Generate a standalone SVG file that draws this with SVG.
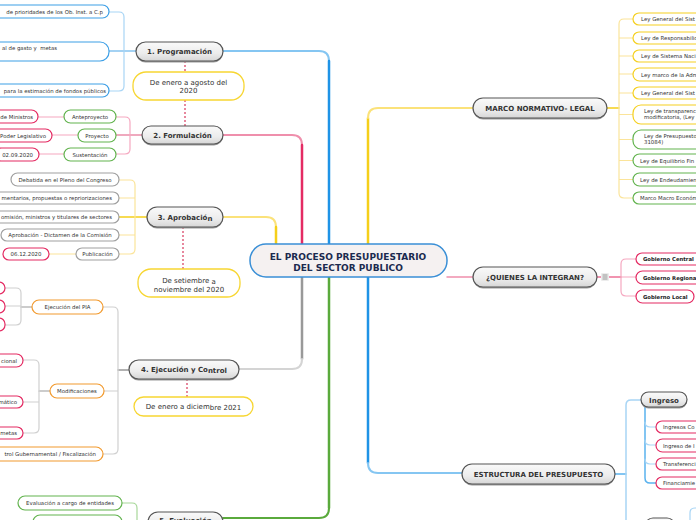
<svg xmlns="http://www.w3.org/2000/svg" width="696" height="520" viewBox="0 0 696 520">
<defs>
<linearGradient id="gGray" x1="0" y1="0" x2="0" y2="1">
<stop offset="0" stop-color="#fafafa"/><stop offset="0.6" stop-color="#ececec"/><stop offset="1" stop-color="#d6d6d6"/>
</linearGradient>
</defs>
<style>
.f{font-family:"DejaVu Sans","Liberation Sans",sans-serif}
.tm{font-family:"DejaVu Sans","Liberation Sans",sans-serif;font-weight:bold;font-size:7px;fill:#333;text-anchor:middle}
.ts{font-family:"DejaVu Sans","Liberation Sans",sans-serif;font-size:5.4px;fill:#333}
.tb{font-family:"DejaVu Sans","Liberation Sans",sans-serif;font-size:5.3px;font-weight:bold;fill:#222}
.td{font-family:"DejaVu Sans","Liberation Sans",sans-serif;font-size:7px;fill:#333;text-anchor:middle}
.mid{text-anchor:middle}
.end{text-anchor:end}
.main{fill:url(#gGray);stroke:#555;stroke-width:1.2}
.shadow{fill:#9a9a9a}
.date{fill:#fff;stroke:#f7d632;stroke-width:1.3}
.bx{fill:#fff;stroke-width:1.2}
.blue{stroke:#3d9fe6}.green{stroke:#62b34e}.pink{stroke:#e42b63}.gray{stroke:#a0a0a0}.orange{stroke:#f29a2e}.yellow{stroke:#f5d020}
.c{fill:none;stroke-linecap:round}
.dash{fill:none;stroke:#e0607e;stroke-width:1.5;stroke-dasharray:2 2}
</style>

<g id="connectors">
<path class="c" d="M223 51 H319 Q329 51 329 61" stroke="#85c6f2" stroke-width="2"/>
<path class="c" d="M329 61 V244" stroke="#1f93e6" stroke-width="2.5"/>
<path class="c" d="M223 135 H292 Q302 135 302 145" stroke="#ef8fac" stroke-width="2"/>
<path class="c" d="M302 145 V244" stroke="#e42b63" stroke-width="2.5"/>
<path class="c" d="M223 217 H266 Q276 217 276 227" stroke="#fbe27a" stroke-width="2"/>
<path class="c" d="M276 227 V244" stroke="#f5cf1a" stroke-width="2.5"/>
<path class="c" d="M302 277 V359" stroke="#999" stroke-width="2.5"/>
<path class="c" d="M302 359 Q302 369 292 369 H239" stroke="#d4d4d4" stroke-width="2"/>
<path class="c" d="M329 277 V508" stroke="#5aaa3c" stroke-width="2.5"/>
<path class="c" d="M329 508 Q329 518 319 518 H223" stroke="#5aaa3c" stroke-width="2"/>
<path class="c" d="M368 244 V118" stroke="#f5cf1a" stroke-width="2.5"/>
<path class="c" d="M368 118 Q368 108 378 108 H473" stroke="#fbe27a" stroke-width="2"/>
<path class="c" d="M447 277 H473" stroke="#ef8fac" stroke-width="1.5"/>
<path class="c" d="M368 277 V463" stroke="#1f93e6" stroke-width="2.5"/>
<path class="c" d="M368 463 Q368 473 378 473 H462" stroke="#85c6f2" stroke-width="2"/>
<path class="dash" d="M185 61 V72 M185 100 V126"/>
<path class="dash" d="M183 227 V269"/>
<path class="dash" d="M187 379 V397"/>
<path class="c" d="M136 51 H109" stroke="#4aa6e8" stroke-width="1.2"/>
<path class="c" d="M109 12 H119 Q124 12 124 17 V86 Q124 91 119 91 H109" stroke="#a8d5f5" stroke-width="1.2"/>
<path class="c" d="M142 135 H116" stroke="#e0557f" stroke-width="1.2"/>
<path class="c" d="M116 117 H125 Q130 117 130 122 V149 Q130 154 125 154 H116" stroke="#f5a8c0" stroke-width="1.2"/>
<path class="c" d="M38 117 H64 M52 135 H78 M39 154 H64" stroke="#f5a8c0" stroke-width="1.2"/>
<path class="c" d="M147 217 H119" stroke="#f5cf1a" stroke-width="1.5"/>
<path class="c" d="M119 180 H130 Q135 180 135 185 V249 Q135 254 130 254 H119 M119 198 H135 M119 235 H135" stroke="#fbe49a" stroke-width="1.2"/>
<path class="c" d="M49 254 H76" stroke="#fbe49a" stroke-width="1.2"/>
<path class="c" d="M129 370 H118" stroke="#999" stroke-width="1.5"/>
<path class="c" d="M103 307 H113 Q118 307 118 312 V449 Q118 454 113 454 H103 M104 391 H118" stroke="#d0d0d0" stroke-width="1.2"/>
<path class="c" d="M32 307 H21" stroke="#999" stroke-width="1.2"/>
<path class="c" d="M5 288 H16 Q21 288 21 293 V320 Q21 325 16 325 H5 M5 306 H21" stroke="#d0d0d0" stroke-width="1.2"/>
<path class="c" d="M50 391 H39" stroke="#999" stroke-width="1.2"/>
<path class="c" d="M23 360 H34 Q39 360 39 365 V428 Q39 433 34 433 H23 M23 402 H39" stroke="#d0d0d0" stroke-width="1.2"/>
<path class="c" d="M148 522 H137 M122 503 H132 Q137 503 137 508 V525" stroke="#a8d89a" stroke-width="1.2"/>
<path class="c" d="M607 108 H619" stroke="#f5cf1a" stroke-width="1.5"/>
<path class="c" d="M633 19 H624 Q619 19 619 24 V193 Q619 198 624 198 H633 M619 38 H633 M619 56 H633 M619 74 H633 M619 93 H633 M619 114.5 H633 M619 139.5 H633 M619 160.5 H633 M619 179.5 H633" stroke="#fbe49a" stroke-width="1.2"/>
<path class="c" d="M597 277 H601 M609 277 H621" stroke="#e42b63" stroke-width="1.2"/>
<path class="c" d="M636 259 H626 Q621 259 621 264 V291 Q621 296 626 296 H636 M621 277 H636" stroke="#f5a8c0" stroke-width="1.2"/>
<path class="c" d="M615 474 H626" stroke="#5ab2ee" stroke-width="1.5"/>
<path class="c" d="M641 400 H631 Q626 400 626 405 V522" stroke="#a8d5f5" stroke-width="1.5"/>
<path class="c" d="M645 407 V478 Q645 483 650 483 H656" stroke="#5ab2ee" stroke-width="1.5"/>
<path class="c" d="M645 422 Q645 427 650 427 H656 M645 440 Q645 445 650 445 H656 M645 459 Q645 464 650 464 H656" stroke="#a8d5f5" stroke-width="1.2"/>
<path class="c" d="M697 508 H695 Q690 508 690 513 V522" stroke="#a8d5f5" stroke-width="1.2"/>
</g>

<g id="central">
<rect x="250" y="244" width="197" height="33" rx="16" fill="#f5f1f1" stroke="#3a8fd6" stroke-width="1.5"/>
<text class="f" x="348" y="260" font-size="9" font-weight="bold" fill="#1b2a4e" text-anchor="middle">EL PROCESO PRESUPUESTARIO</text>
<text class="f" x="348" y="270.5" font-size="9" font-weight="bold" fill="#1b2a4e" text-anchor="middle">DEL SECTOR PUBLICO</text>
</g>

<g id="programacion">
<rect class="shadow" x="136" y="43.5" width="87" height="19" rx="9.5"/>
<rect class="main" x="136" y="42" width="87" height="19" rx="9.5"/>
<text class="tm" x="179.5" y="54.3">1. Programación</text>
</g>
<g id="prog-fecha">
<rect class="date" x="133" y="72" width="111" height="28" rx="13"/>
<text class="td" x="188.5" y="84.5">De enero a agosto del</text>
<text class="td" x="188.5" y="93">2020</text>
</g>
<g id="prog-c1"><rect class="bx blue" x="-40" y="5" width="149" height="13" rx="6.5"/><text class="ts end" x="103" y="13.7">de prioridades de los Ob. Inst. a C.p</text></g>
<g id="prog-c2"><rect class="bx blue" x="-40" y="42" width="149" height="19" rx="9"/><text class="ts end" x="57" y="50" xml:space="preserve">al de gasto y  metas</text></g>
<g id="prog-c3"><rect class="bx blue" x="-40" y="84" width="149" height="13" rx="6.5"/><text class="ts end" x="106" y="92.7">para la estimación de fondos públicos</text></g>

<g id="formulacion">
<rect class="shadow" x="142" y="127.5" width="81" height="18" rx="9"/>
<rect class="main" x="142" y="126" width="81" height="18" rx="9"/>
<text class="tm" x="182.5" y="137.8">2. Formulación</text>
</g>
<g id="form-ante"><rect class="bx green" x="64" y="110" width="52" height="13" rx="6.5"/><text class="ts mid" x="90" y="118.7">Anteproyecto</text></g>
<g id="form-proy"><rect class="bx green" x="78" y="129" width="38" height="13" rx="6.5"/><text class="ts mid" x="97" y="137.7">Proyecto</text></g>
<g id="form-sust"><rect class="bx green" x="64" y="148" width="52" height="13" rx="6.5"/><text class="ts mid" x="90" y="156.7">Sustentación</text></g>
<g id="form-ante-c"><rect class="bx pink" x="-30" y="110" width="68" height="13" rx="6.5"/><text class="ts end" x="33" y="118.7">de Ministros</text></g>
<g id="form-proy-c"><rect class="bx pink" x="-30" y="129" width="82" height="13" rx="6.5"/><text class="ts end" x="46" y="137.7">Poder Legislativo</text></g>
<g id="form-sust-c"><rect class="bx pink" x="-5" y="148" width="44" height="13" rx="6.5"/><text class="ts end" x="33" y="156.7">02.09.2020</text></g>

<g id="aprobacion">
<rect class="shadow" x="147" y="208.5" width="76" height="20" rx="10"/>
<rect class="main" x="147" y="207" width="76" height="20" rx="10"/>
<text class="tm" x="185" y="219.5">3. Aprobació<tspan dy="1.5">n</tspan></text>
</g>
<g id="apro-fecha">
<rect class="date" x="138" y="269" width="102" height="28" rx="13"/>
<text class="td" x="189" y="282.5">De setiembre <tspan dy="1.5">a</tspan></text>
<text class="td" x="189" y="291.5">noviembre del 2020</text>
</g>
<g id="apro-c1"><rect class="bx gray" x="11" y="173" width="108" height="13" rx="6.5"/><text class="ts mid" x="65" y="181.7">Debatida en el Pleno del Congreso</text></g>
<g id="apro-c2"><rect class="bx gray" x="-40" y="192" width="159" height="12" rx="6"/><text class="ts end" x="112" y="200.2">mentarios, propuestas o repriorizaciones</text></g>
<g id="apro-c3"><rect class="bx gray" x="-40" y="211" width="159" height="12" rx="6"/><text class="ts end" x="112" y="219.2">omisión, ministros y titulares de sectores</text></g>
<g id="apro-c4"><rect class="bx gray" x="1" y="229" width="118" height="12" rx="6"/><text class="ts mid" x="60" y="237.2">Aprobación - Dictamen de la Comisión</text></g>
<g id="apro-c5"><rect class="bx gray" x="76" y="248" width="43" height="12" rx="6"/><text class="ts mid" x="97.5" y="256.2">Publicación</text></g>
<g id="apro-c5a"><rect class="bx pink" x="3" y="248" width="46" height="12" rx="6"/><text class="ts mid" x="26" y="256.2">06.12.2020</text></g>

<g id="ejecucion">
<rect class="shadow" x="129" y="361.5" width="110" height="19" rx="9.5"/>
<rect class="main" x="129" y="360" width="110" height="19" rx="9.5"/>
<text class="tm" x="184" y="372.3">4. Ejecución y Co<tspan dy="1">ntrol</tspan></text>
</g>
<g id="ejec-fecha">
<rect class="date" x="134" y="397" width="119" height="19" rx="9.5"/>
<text class="td" x="193.5" y="409">De enero a diciem<tspan dy="1">bre 2021</tspan></text>
</g>
<g id="ejec-pia"><rect class="bx orange" x="32" y="300" width="71" height="14" rx="7"/><text class="ts mid" x="67.5" y="309.4" font-size="6.5">Ejecución del PIA</text></g>
<g id="ejec-mod"><rect class="bx orange" x="50" y="384" width="54" height="14" rx="7"/><text class="ts mid" x="77" y="393">Modificaciones</text></g>
<g id="ejec-ctrl"><rect class="bx orange" x="-60" y="447" width="163" height="14" rx="7"/><text class="ts end" x="96" y="456">trol Gubernamental / Fiscalización</text></g>
<g id="pia-c1"><rect class="bx pink" x="-40" y="282" width="45" height="12" rx="6"/></g>
<g id="pia-c2"><rect class="bx pink" x="-40" y="300" width="45" height="13" rx="6"/></g>
<g id="pia-c3"><rect class="bx pink" x="-40" y="318" width="45" height="13" rx="6"/></g>
<g id="mod-c1"><rect class="bx pink" x="-40" y="354" width="63" height="13" rx="6.5"/><text class="ts end" x="17" y="362.6">cional</text></g>
<g id="mod-c2"><rect class="bx pink" x="-40" y="396" width="63" height="12" rx="6"/><text class="ts end" x="17" y="404.2">mático</text></g>
<g id="mod-c3"><rect class="bx pink" x="-40" y="427" width="63" height="12" rx="6"/><text class="ts end" x="17" y="435.2">metas</text></g>

<g id="evaluacion">
<rect class="shadow" x="148" y="513.5" width="75" height="20" rx="10"/>
<rect class="main" x="148" y="512" width="75" height="20" rx="10"/>
<text class="tm" x="185.5" y="523">5. Evaluación</text>
</g>
<g id="eval-c1"><rect class="bx green" x="18" y="496" width="104" height="14" rx="7"/><text class="ts mid" x="70" y="505">Evaluación a cargo de entidades</text></g>
<g id="eval-c2"><rect class="bx green" x="33" y="515" width="89" height="14" rx="7"/></g>

<g id="marco">
<rect class="shadow" x="473" y="99.5" width="134" height="20" rx="10"/>
<rect class="main" x="473" y="98" width="134" height="20" rx="10"/>
<text class="tm" x="540" y="110.6">MARCO NORMATIVO- LEGAL</text>
</g>
<g id="marco-c1"><rect class="bx yellow" x="633" y="13" width="80" height="12" rx="6"/><text class="ts" x="641" y="21">Ley General del Sist</text></g>
<g id="marco-c2"><rect class="bx yellow" x="633" y="32" width="80" height="12" rx="6"/><text class="ts" x="641" y="40">Ley de Responsabilid</text></g>
<g id="marco-c3"><rect class="bx yellow" x="633" y="50" width="80" height="12" rx="6"/><text class="ts" x="641" y="58">Ley de Sistema Naci</text></g>
<g id="marco-c4"><rect class="bx yellow" x="633" y="68" width="80" height="13" rx="6.5"/><text class="ts" x="641" y="76.5">Ley marco de la Adm</text></g>
<g id="marco-c5"><rect class="bx yellow" x="633" y="87" width="80" height="12" rx="6"/><text class="ts" x="641" y="95">Ley General del Sist</text></g>
<g id="marco-c6"><rect class="bx yellow" x="633" y="105" width="80" height="19" rx="8"/><text class="ts" x="644" y="113.3">Ley de transparenc</text><text class="ts" x="644" y="119">modificatoria, (Ley</text></g>
<g id="marco-c7"><rect class="bx green" x="633" y="130" width="80" height="19" rx="8"/><text class="ts" x="644" y="138.3">Ley de Presupuesto</text><text class="ts" x="644" y="144">31084)</text></g>
<g id="marco-c8"><rect class="bx green" x="633" y="154" width="80" height="13" rx="6.5"/><text class="ts" x="640" y="162.6">Ley de Equilibrio Fin</text></g>
<g id="marco-c9"><rect class="bx green" x="633" y="173" width="80" height="13" rx="6.5"/><text class="ts" x="640" y="181.6">Ley de Endeudamien</text></g>
<g id="marco-c10"><rect class="bx green" x="633" y="192" width="80" height="12" rx="6"/><text class="ts" x="640" y="200.2">Marco Macro Económ</text></g>

<g id="quienes">
<rect class="shadow" x="473" y="268.5" width="124" height="20" rx="10"/>
<rect class="main" x="473" y="267" width="124" height="20" rx="10"/>
<text class="tm" x="535" y="279.6">¿QUIENES LA INTEGRAN?</text>
<rect x="601" y="273" width="8" height="8" rx="1" fill="#ececec"/>
<path d="M602.5 275 H607.5 M602.5 277 H607.5 M602.5 279 H607.5" stroke="#777" stroke-width="0.7"/>
</g>
<g id="gob-central"><rect class="bx pink" x="636" y="253" width="70" height="12" rx="6"/><text class="tb" x="643" y="261.1">Gobierno Central</text></g>
<g id="gob-regional"><rect class="bx pink" x="636" y="271" width="70" height="13" rx="6.5"/><text class="tb" x="643" y="279.6">Gobierno Regional</text></g>
<g id="gob-local"><rect class="bx pink" x="636" y="290" width="58" height="13" rx="6.5"/><text class="tb" x="643" y="298.6">Gobierno Local</text></g>

<g id="estructura">
<rect class="shadow" x="462" y="465.5" width="153" height="20" rx="10"/>
<rect class="main" x="462" y="464" width="153" height="20" rx="10"/>
<text class="tm" x="538.5" y="476.6">ESTRUCTURA DEL PRESUPUESTO</text>
</g>
<g id="ingreso">
<rect class="shadow" x="641" y="393.5" width="46" height="15" rx="7.5"/>
<rect class="main" x="641" y="392" width="46" height="15" rx="7.5"/>
<text class="tm" x="664" y="402.5">Ingreso</text>
</g>
<g id="ing-c1"><rect class="bx pink" x="656" y="421" width="60" height="12" rx="6"/><text class="ts" x="663" y="429.2">Ingresos Co</text></g>
<g id="ing-c2"><rect class="bx pink" x="656" y="439" width="60" height="13" rx="6.5"/><text class="ts" x="663" y="447.6">Ingreso de I</text></g>
<g id="ing-c3"><rect class="bx pink" x="656" y="458" width="60" height="12" rx="6"/><text class="ts" x="663" y="466.2">Transferenci</text></g>
<g id="ing-c4"><rect class="bx pink" x="656" y="477" width="60" height="12" rx="6"/><text class="ts" x="663" y="485.2">Financiamie</text></g>
<g id="gasto">
<rect class="main" x="645" y="518" width="30" height="16" rx="8"/>
</g>
</svg>
